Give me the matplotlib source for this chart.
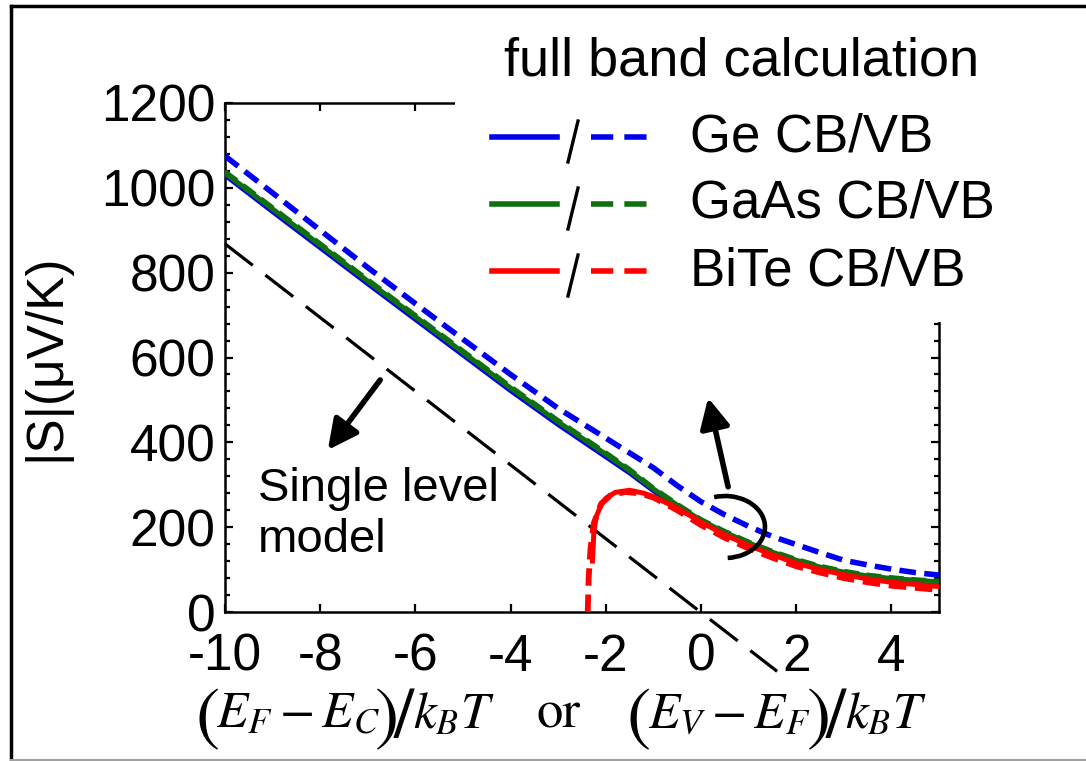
import matplotlib
matplotlib.use("Agg")
import matplotlib.pyplot as plt
from matplotlib.patches import Rectangle, Arc
from matplotlib.lines import Line2D
from matplotlib.ticker import MultipleLocator

plt.rcParams['font.family'] = ['Liberation Sans', 'DejaVu Sans']
plt.rcParams['mathtext.fontset'] = 'stix'
plt.rcParams['axes.unicode_minus'] = False

# ---------------- data ----------------
single_x = [-10.0, 1.6]
single_y = [868, -140]

ge_vb_x = [-10, -9, -8, -7, -6, -5, -4, -3, -2, -1, -0.5, 0, 0.5, 1, 1.5, 2, 2.5, 3, 3.5, 4, 4.5, 5]
ge_vb_y = [1075, 988, 900, 812, 727, 643, 560, 480, 410, 340, 298, 260, 229, 202, 178, 159, 140, 122, 111, 101, 93, 87]

gaas_cb_x = [-10, -9, -8, -7, -6, -5, -4, -3, -2, -1.5, -1, -0.5, 0, 0.5, 1, 1.5, 2, 2.5, 3, 3.5, 4, 4.5, 5]
gaas_cb_y = [1035, 950, 865, 780, 696, 612, 528, 448, 372, 333, 290, 252, 216, 188, 163, 141, 122, 106, 94, 85, 79, 75, 71]

ge_cb_x = gaas_cb_x
ge_cb_y = [1030, 944, 859, 774, 690, 606, 522, 442, 366, 328, 286, 249, 213, 185, 160, 138, 119, 104, 92, 83, 77, 73, 69]

gaas_vb_x = gaas_cb_x
gaas_vb_y = [1038, 953, 868, 783, 699, 615, 531, 451, 375, 336, 292, 254, 218, 190, 165, 143, 124, 108, 96, 87, 81, 76, 73]

bite_cb_x = [-2.28, -2.25, -2.2, -2.1, -2.0, -1.8, -1.5, -1.2, -1.0, -0.5, 0, 0.5, 1, 1.5, 2, 2.5, 3, 3.5, 4, 4.5, 5]
bite_cb_y = [120, 190, 225, 252, 268, 282, 287, 280, 272, 245, 212, 182, 157, 135, 115, 100, 88, 78, 70, 65, 60]

bite_vb_x = [-2.38, -2.36, -2.32, -2.25, -2.1, -1.9, -1.6, -1.3, -1.0, -0.5, 0, 0.5, 1, 1.5, 2, 2.5, 3, 3.5, 4, 4.5, 5]
bite_vb_y = [0, 80, 150, 210, 255, 275, 283, 280, 270, 240, 205, 175, 150, 128, 108, 93, 80, 70, 62, 57, 52]

x_ticks = [-10, -8, -6, -4, -2, 0, 2, 4]
y_ticks = [0, 200, 400, 600, 800, 1000, 1200]

legend_labels = ["Ge CB/VB", "GaAs CB/VB", "BiTe CB/VB"]
legend_colors = ["#0000ee", "#107010", "#ff0000"]

BLUE = "#0000ee"
GREEN = "#107010"
RED = "#ff0000"

W, H = 1086, 761
fig = plt.figure(figsize=(W / 100, H / 100), dpi=100)

def fx(px):
    return px / W

def fy(py):
    return 1 - py / H

ax = fig.add_axes([fx(225), fy(612), fx(939) - fx(225), fy(103) - fy(612)])
ax.set_xlim(-10, 5)
ax.set_ylim(0, 1200)

lw = 3.6
dash = (0, (3.0, 1.5))
ax.plot(single_x, single_y, color='black', lw=2.3, dashes=(11, 5), clip_on=False, zorder=2)
ax.plot(ge_cb_x, ge_cb_y, color=BLUE, lw=lw, zorder=3)
ax.plot(gaas_vb_x, gaas_vb_y, color=GREEN, lw=lw, linestyle=dash, zorder=3)
ax.plot(gaas_cb_x, gaas_cb_y, color=GREEN, lw=lw, zorder=4)
ax.plot(ge_vb_x, ge_vb_y, color=BLUE, lw=lw + 0.4, linestyle=dash, zorder=4)
ax.plot(bite_vb_x, bite_vb_y, color=RED, lw=lw + 0.6, linestyle=dash, zorder=5)
ax.plot(bite_cb_x, bite_cb_y, color=RED, lw=lw, zorder=5)

ax.set_xticks(x_ticks)
ax.set_yticks(y_ticks)
ax.set_xticklabels([str(v) for v in x_ticks])
ax.set_yticklabels([str(v) for v in y_ticks])
ax.yaxis.set_minor_locator(MultipleLocator(40))
ax.tick_params(which='both', direction='in', top=True, right=True, width=1.6,
               labelsize=37, colors='black')
ax.tick_params(which='major', length=6)
ax.tick_params(which='minor', length=3.5)
ax.tick_params(axis='x', pad=15)
ax.tick_params(axis='y', pad=7)
for s in ax.spines.values():
    s.set_linewidth(1.8)

ax.set_ylabel("|S|(μV/K)", fontsize=37, labelpad=22)

# annotations
arrow_style = '-|>,head_length=1.8,head_width=0.9'
ax.annotate("", xy=(-7.84, 382), xytext=(-6.74, 547),
            arrowprops=dict(arrowstyle=arrow_style, color='black', lw=4,
                            shrinkA=0, shrinkB=0))
ax.text(-9.31, 229, "Single level\nmodel", fontsize=34, ha='left', va='center', linespacing=1.2)
ax.annotate("", xy=(0.15, 505), xytext=(0.57, 295),
            arrowprops=dict(arrowstyle=arrow_style, color='black', lw=4,
                            shrinkA=0, shrinkB=0))
# arc bracket (drawn in figure inches so the angles are true screen angles)
fig.add_artist(Arc((725 / 100, (H - 527) / 100), 0.80, 0.62, theta1=-85, theta2=110,
                   transform=fig.dpi_scale_trans, color='black', lw=3.3, zorder=6))

# legend box (white, covers the frame)
fig.add_artist(Rectangle((fx(455), fy(322)), 1 - fx(455), 1 - fy(322), transform=fig.transFigure,
                         facecolor='white', edgecolor='none', zorder=5))
fig.text(fx(742), fy(62), "full band calculation", fontsize=39, ha='center', va='center', zorder=6)
rows_y = [137, 204, 271]
for lab, col, ry in zip(legend_labels, legend_colors, rows_y):
    fig.add_artist(Line2D([fx(492), fx(557)], [fy(ry), fy(ry)], transform=fig.transFigure,
                          color=col, lw=4, zorder=6))
    fig.add_artist(Line2D([fx(591), fx(657)], [fy(ry), fy(ry)], transform=fig.transFigure,
                          color=col, lw=4, dashes=(4, 2), zorder=6))
    fig.add_artist(Line2D([fx(568), fx(578)], [fy(ry + 25), fy(ry - 16)], transform=fig.transFigure,
                          color='black', lw=2.4, zorder=6))
    fig.text(fx(690), fy(ry), lab, fontsize=38, ha='left', va='center', zorder=6)

# x-label, composed of pieces (big delimiters + math)
math_base = 728
big = dict(family='STIXGeneral', fontsize=52, va='baseline', ha='left')
mth = dict(fontsize=37, va='baseline', ha='left')
pieces = [
    (195, "(", big, 9),
    (216, r"$E_F - E_C$", mth, 0),
    (375, ")", big, 9),
    (394, "/", big, 9),
    (413, r"$k_BT$", mth, 0),
    (536, "or", dict(family='STIXGeneral', fontsize=38, va='baseline', ha='left'), 0),
    (627, "(", big, 9),
    (648, r"$E_V - E_F$", mth, 0),
    (807, ")", big, 9),
    (826, "/", big, 9),
    (845, r"$k_BT$", mth, 0),
]
for px, s, kw, dy in pieces:
    fig.text(fx(px), fy(math_base + dy), s, **kw)

# outer frame
fig.add_artist(Line2D([fx(11), fx(11)], [fy(6), fy(761)], transform=fig.transFigure, color='black', lw=2.5, zorder=10))
fig.add_artist(Line2D([fx(11), fx(1086)], [fy(6), fy(6)], transform=fig.transFigure, color='black', lw=2.5, zorder=10))
fig.add_artist(Line2D([fx(11), fx(1086)], [fy(760), fy(760)], transform=fig.transFigure, color='#a0a0a0', lw=1.5, zorder=10))

fig.savefig("out.png", dpi=100)
